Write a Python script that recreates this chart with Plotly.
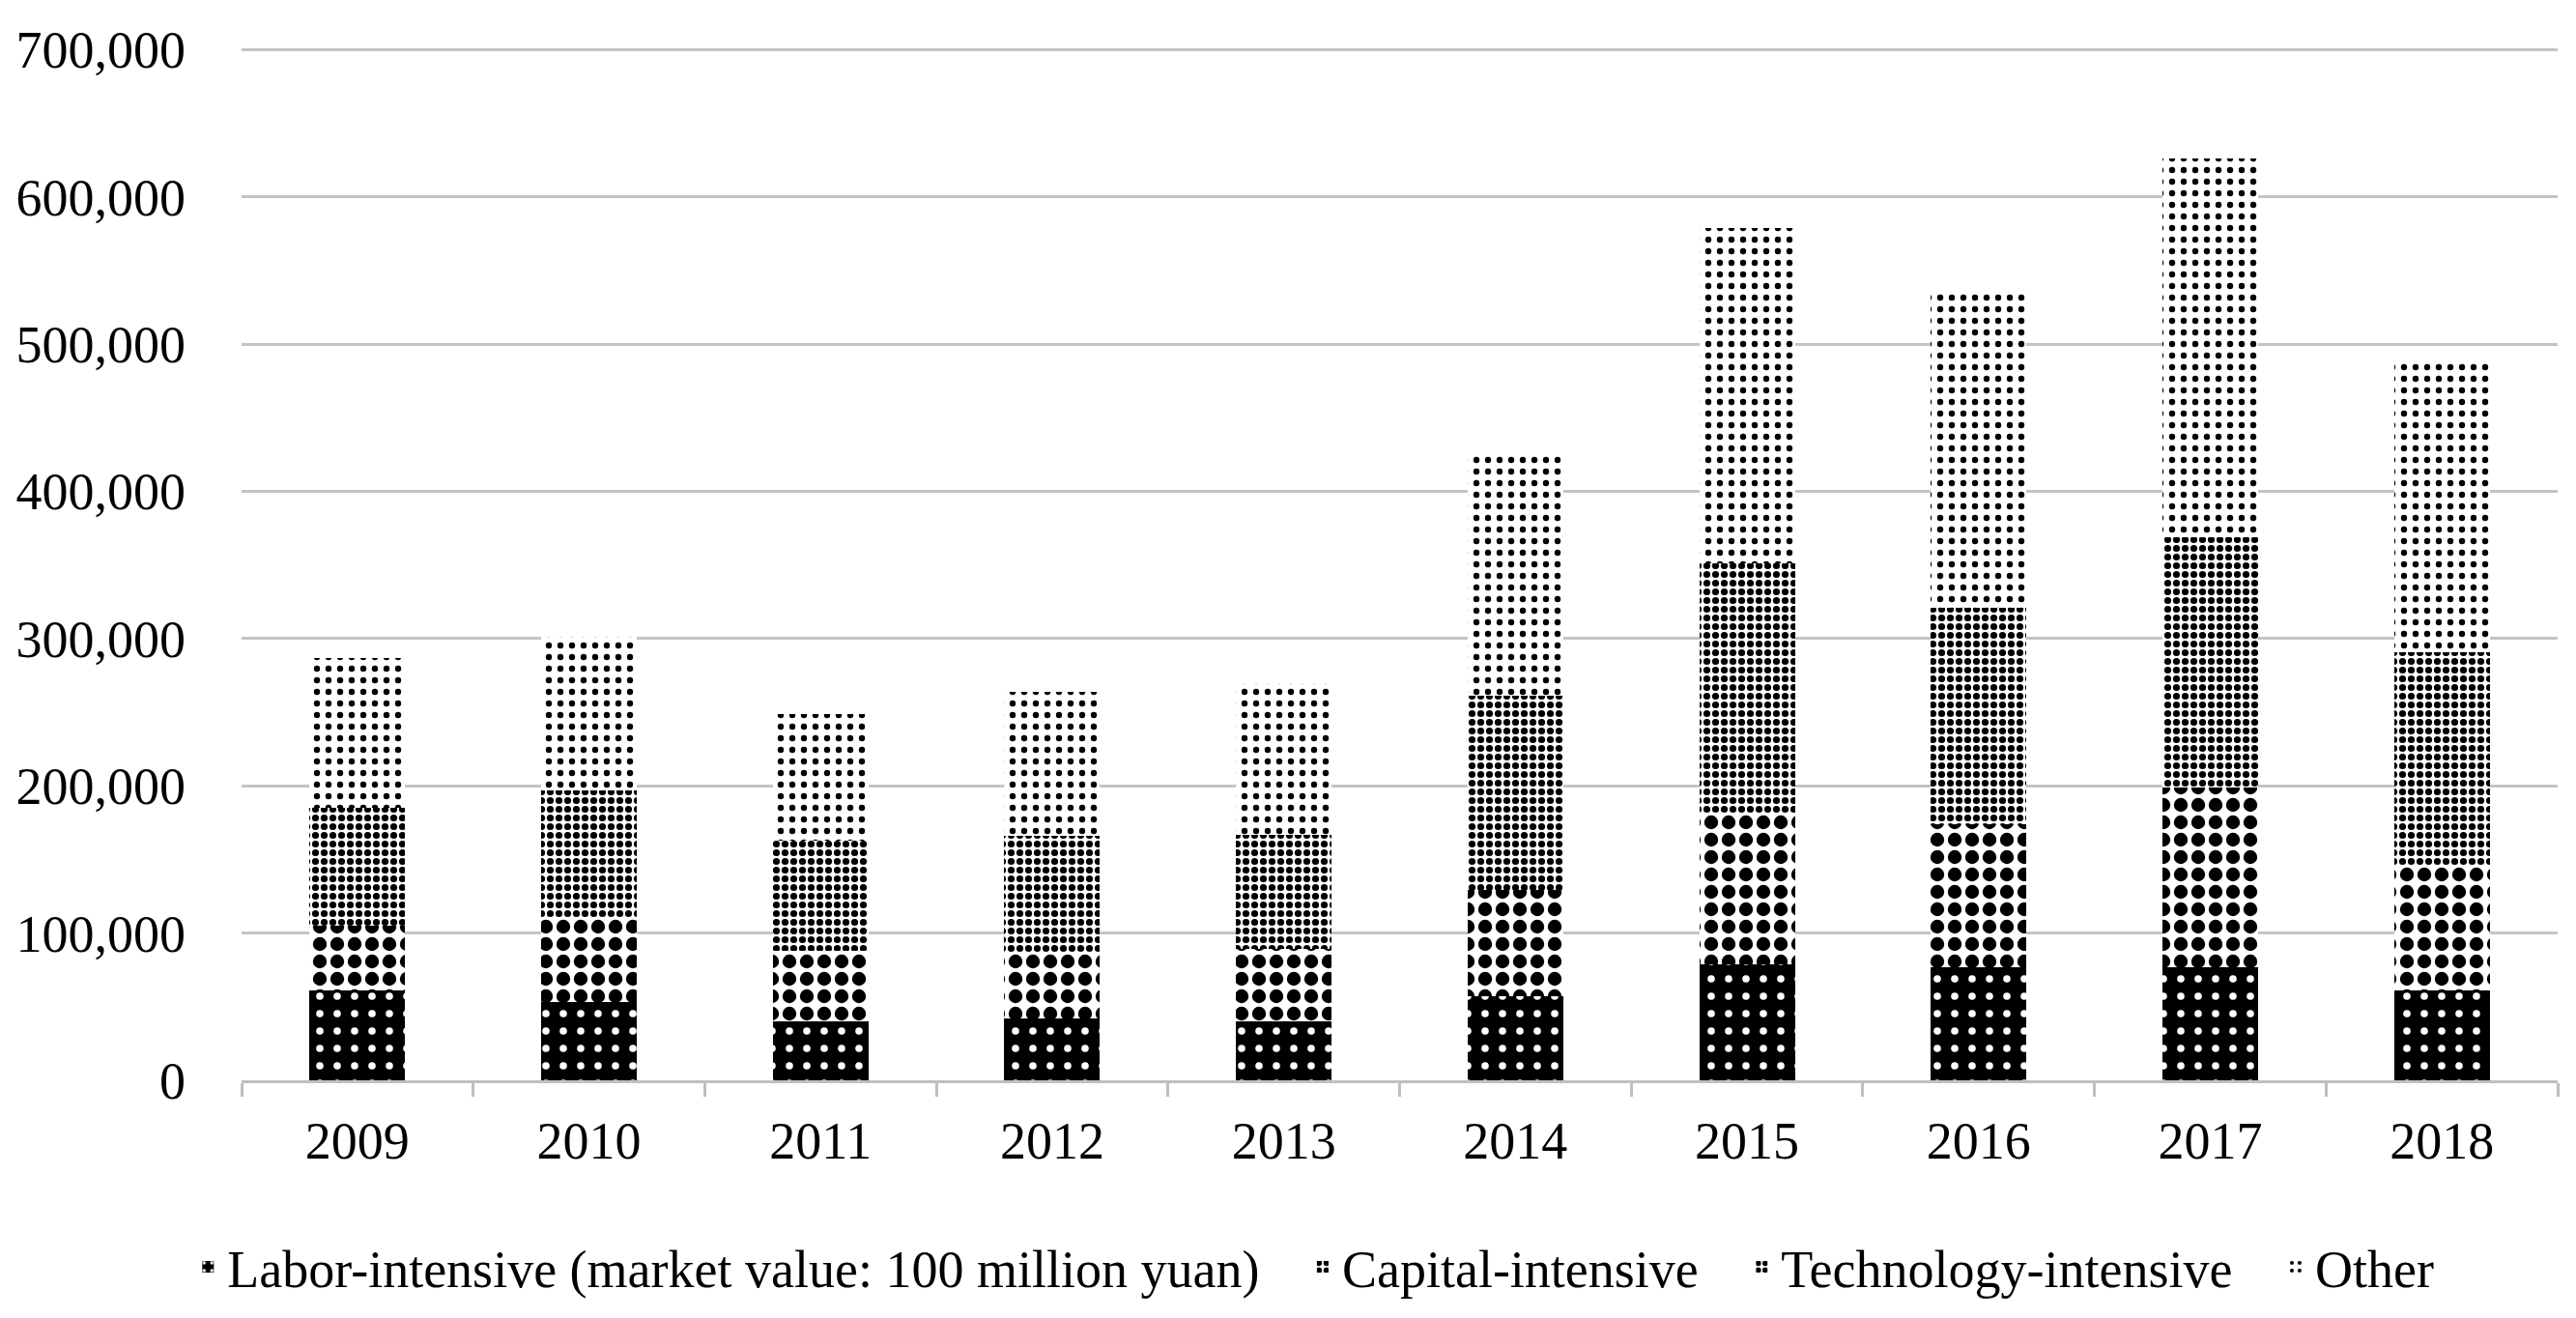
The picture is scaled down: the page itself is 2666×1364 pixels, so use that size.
import plotly.graph_objects as go

years = ["2009", "2010", "2011", "2012", "2013", "2014", "2015", "2016", "2017", "2018"]
labor = [61000, 53000, 40000, 42000, 40000, 57000, 79000, 77000, 77000, 61000]
capital = [44000, 58000, 48000, 45000, 49000, 72000, 102000, 97000, 122000, 85000]
technology = [80000, 86000, 75000, 79000, 78000, 132000, 170000, 147000, 170000, 145000]
other = [102000, 104000, 86000, 98000, 103000, 164000, 228000, 216000, 257000, 196000]

names = ["Labor-intensive (market value: 100 million yuan)", "Capital-intensive",
         "Technology-intensive", "Other"]
pad = "\u00a0\u00a0\u00a0"

FONT = "Liberation Serif"

fig = go.Figure()
fig.add_trace(go.Bar(x=years, y=labor, name=names[0] + pad,
                     marker=dict(color="black", line=dict(width=0),
                                 pattern=dict(shape=".", bgcolor="black", fgcolor="white",
                                              size=18, solidity=0.14, fillmode="replace"))))
fig.add_trace(go.Bar(x=years, y=capital, name=names[1] + pad,
                     marker=dict(color="white", line=dict(width=0),
                                 pattern=dict(shape=".", bgcolor="white", fgcolor="black",
                                              size=18, solidity=0.5, fillmode="replace"))))
fig.add_trace(go.Bar(x=years, y=technology, name=names[2] + pad,
                     marker=dict(color="white", line=dict(width=0),
                                 pattern=dict(shape=".", bgcolor="white", fgcolor="black",
                                              size=9, solidity=0.5, fillmode="replace"))))
fig.add_trace(go.Bar(x=years, y=other, name=names[3],
                     marker=dict(color="white", line=dict(width=0),
                                 pattern=dict(shape=".", bgcolor="white", fgcolor="black",
                                              size=12, solidity=0.22, fillmode="replace"))))

fig.update_layout(
    barmode="stack",
    bargap=0.587,
    width=2650, height=1348,
    paper_bgcolor="white", plot_bgcolor="white",
    margin=dict(l=242, r=11, t=42, b=238, autoexpand=False),
    font=dict(family=FONT, size=54, color="black"),
    showlegend=True,
    legend=dict(orientation="h", x=0.463, xanchor="center", y=-0.181, yanchor="middle",
                font=dict(family=FONT, size=54, color="black"),
                itemwidth=30, traceorder="normal"),
    xaxis=dict(showline=True, linecolor="#bfbfbf", linewidth=3,
               ticks="outside", tickson="boundaries", ticklen=14, tickwidth=3,
               tickcolor="#bfbfbf", showgrid=False, ticklabelstandoff=13,
               automargin=False,
               tickfont=dict(family=FONT, size=54, color="black")),
    yaxis=dict(range=[0, 701000], tickvals=[0, 100000, 200000, 300000, 400000,
                                            500000, 600000, 700000],
               tickformat=",d", automargin=False,
               showgrid=True, gridcolor="#c4c4c4", gridwidth=3,
               zeroline=False, showline=False, ticks="", ticklabelstandoff=57,
               tickfont=dict(family=FONT, size=54, color="black")),
)

fig.write_html("out.html")
